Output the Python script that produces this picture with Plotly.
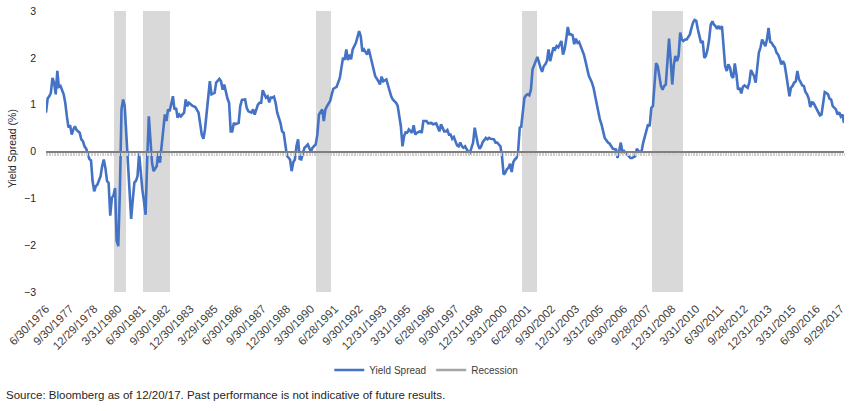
import pandas as pd
import plotly.graph_objects as go

N = None
# Monthly 10y-2y yield spread (%), month-ends starting June 1976
spread = [
    0.83, 1.13, 1.18, 1.25, 1.57, 1.47, 1.22, 1.72, 1.38, 1.40, N, 1.22,
    1.04, 0.75, 0.51, 0.56, 0.36, 0.47, 0.54, 0.46, 0.43, 0.40, 0.26, 0.22,
    0.11, 0.06, -0.04, -0.16, -0.19, -0.63, -0.85, -0.74, -0.71, -0.60, -0.53, -0.31,
    -0.17, -0.35, -0.63, -0.67, -1.37, -0.99, -0.94, -0.78, -1.90, -2.02, -0.88, 0.90,
    1.11, 0.97, 0.40, -0.10, -0.88, -1.44, -1.03, -0.66, -0.63, -0.53, -0.04, -0.46,
    -0.81, -1.06, -1.35, -0.20, 0.75, 0.26, -0.24, -0.42, N, -0.31, 0.01, -0.24,
    0.11, 0.54, 0.79, 0.65, 0.90, 0.86, N, 1.18, 0.90, 0.93, 0.72, 0.79,
    0.75, N, 0.83, 1.11, 0.97, 1.04, N, 0.98, N, 0.95, N, 0.83,
    N, 0.36, 0.27, 0.47, N, 1.08, 1.50, 1.22, N, 1.25, 1.47, N,
    1.55, 1.50, 1.32, 1.43, 1.25, 1.13, 1.04, 0.43, 0.43, 0.61, 0.58, N,
    0.61, 0.97, 1.10, N, 1.11, 0.93, 0.86, N, 0.83, 0.90, 0.79, N,
    1.00, 1.04, 1.04, 1.31, N, 1.15, 1.18, 1.05, 1.15, 1.15, 1.17, 1.04,
    0.83, N, 0.61, 0.43, 0.40, 0.11, -0.09, N, -0.17, -0.42, -0.23, -0.17,
    0.11, 0.26, -0.16, -0.17, -0.03, 0.08, 0.11, 0.15, N, -0.01, 0.08, N,
    0.15, 0.36, 0.79, 0.86, 0.90, 0.65, 0.90, 0.97, 1.04, 1.08, 1.22, 1.34,
    N, 1.38, 1.47, 1.57, 1.79, 2.00, 1.96, 2.18, 1.95, 2.07, 1.97, 2.18,
    N, 2.32, N, 2.57, 2.46, 2.14, 2.18, 2.11, 2.07, 2.19, 2.04, N,
    1.75, 1.61, N, 1.50, 1.43, 1.60, 1.50, N, 1.54, 1.41, N, 1.18,
    1.11, N, 1.04, 0.98, N, 0.54, 0.11, 0.33, 0.41, 0.40, 0.47, N,
    0.40, 0.56, 0.36, 0.40, N, 0.43, 0.40, 0.65, N, 0.65, 0.60, N,
    0.61, 0.58, N, 0.60, 0.51, 0.43, 0.58, 0.51, 0.43, 0.43, 0.46, 0.36,
    0.36, 0.27, 0.31, 0.22, 0.13, 0.11, 0.19, 0.11, 0.08, 0.11, 0.04, -0.01,
    -0.03, 0.08, 0.19, 0.51, 0.29, 0.15, 0.06, 0.11, 0.20, 0.26, 0.29, 0.26,
    0.29, 0.27, 0.27, 0.26, 0.19, 0.19, 0.15, 0.11, -0.10, -0.49, -0.46, -0.38,
    -0.35, -0.26, -0.44, -0.23, -0.17, -0.14, 0.00, 0.51, 0.53, 0.90, 1.15, 1.20,
    1.22, 1.20, 1.32, 1.75, 1.86, 1.93, 2.02, 1.86, 1.79, 1.70, 1.82, 1.86,
    1.93, 2.18, 1.93, 2.07, 2.22, 2.18, 2.25, 2.22, 2.29, 2.36, 2.07, 2.18,
    2.39, 2.66, 2.50, 2.50, 2.48, 2.29, 2.41, 2.32, 2.34, 2.26, 2.18, 2.07,
    1.93, 1.79, 1.62, N, 1.47, 1.36, 1.18, 1.00, 0.79, 0.68, 0.58, 0.43,
    0.29, 0.24, 0.19, 0.17, 0.11, 0.06, N, 0.04, -0.14, 0.01, 0.19, -0.01,
    0.01, -0.03, N, -0.09, -0.14, -0.14, N, -0.10, 0.06, 0.01, -0.01, 0.01,
    0.19, 0.33, 0.51, 0.58, 0.54, 0.93, 0.97, 1.54, 1.89, 1.82, 1.57, 1.40,
    1.32, 1.40, 1.43, 1.97, 2.41, 1.97, 1.43, 1.86, 2.04, 1.93, 2.04, 2.54,
    2.39, 2.36, 2.39, 2.39, 2.46, 2.50, 2.64, 2.76, 2.81, 2.79, 2.61, 2.46,
    2.32, 2.36, 2.00, 2.04, 2.18, 2.39, 2.71, 2.78, 2.71, 2.68, 2.62, 2.68,
    2.61, 2.68, 2.18, 1.82, 1.72, 1.86, 1.79, 1.61, 1.57, 1.88, 1.65, 1.32,
    1.36, 1.24, 1.38, 1.41, N, 1.36, 1.47, 1.74, 1.67, 1.61, 1.47, 1.86,
    2.11, 2.22, 2.39, 2.32, 2.25, 2.39, 2.64, 2.34, 2.32, 2.26, 2.22, 2.11,
    2.07, 1.98, 1.86, 1.93, 1.86, 1.65, 1.43, 1.18, 1.36, 1.40, 1.47, 1.50,
    1.72, 1.54, 1.48, 1.41, 1.40, 1.27, 1.22, 1.13, 0.95, 1.05, 1.04, 0.97,
    0.90, 0.83, 0.77, 0.79, 1.04, 1.27, 1.25, 1.22, 1.13, 1.11, 0.97, 0.93,
    0.90, 0.79, 0.84, 0.75, 0.79, 0.61,
]
series_start = "1976-06-30"

recession_start = ["1980-01-31", "1981-07-31", "1990-07-31", "2001-03-31", "2007-12-31"]
recession_end = ["1980-07-31", "1982-11-30", "1991-03-31", "2001-11-30", "2009-06-30"]

tick_labels = [
    "6/30/1976", "9/30/1977", "12/29/1978", "3/31/1980", "6/30/1981", "9/30/1982",
    "12/30/1983", "3/29/1985", "6/30/1986", "9/30/1987", "12/30/1988", "3/30/1990",
    "6/28/1991", "9/30/1992", "12/31/1993", "3/31/1995", "6/28/1996", "9/30/1997",
    "12/31/1998", "3/31/2000", "6/29/2001", "9/30/2002", "12/31/2003", "3/31/2005",
    "6/30/2006", "9/28/2007", "12/31/2008", "3/31/2010", "6/30/2011", "9/28/2012",
    "12/31/2013", "3/31/2015", "6/30/2016", "9/29/2017",
]
y_ticks = [-3, -2, -1, 0, 1, 2, 3]

dates = pd.date_range(series_start, periods=len(spread), freq=pd.offsets.MonthEnd())
tick_vals = pd.to_datetime(tick_labels, format="%m/%d/%Y")

rec_x = []
for s, e in zip(recession_start, recession_end):
    rec_x.extend(pd.date_range(s, e, freq=pd.offsets.MonthEnd()))
month_ms = 30.44 * 24 * 3600 * 1000

W, H = 850, 411
L, R, T, B = 46, 4, 11, 119
pw = W - L - R
ph = H - T - B

fig = go.Figure()
fig.add_trace(go.Bar(
    x=rec_x, y=[6] * len(rec_x), base=-3, width=month_ms,
    marker=dict(color="#d9d9d9", line=dict(width=0)),
    showlegend=False, hoverinfo="skip",
))
fig.add_trace(go.Scatter(
    x=dates, y=spread, mode="lines", name="Yield Spread",
    line=dict(color="#4472c4", width=2.6), connectgaps=True,
))
fig.add_trace(go.Scatter(
    x=[None], y=[None], mode="lines", name="Recession",
    line=dict(color="#a5a5a5", width=2.5),
))
# zero axis with category tick marks
fig.add_trace(go.Scatter(x=[dates[0]], y=[0], xaxis="x2", mode="markers",
                         marker=dict(opacity=0), showlegend=False, hoverinfo="skip"))

fig.update_layout(
    width=W, height=H,
    margin=dict(l=L, r=R, t=T, b=B),
    plot_bgcolor="white", paper_bgcolor="white",
    font=dict(family="Liberation Sans, Arial, sans-serif", color="#404040"),
    xaxis=dict(
        type="date", range=[dates[0], dates[-1]],
        tickvals=tick_vals, ticktext=tick_labels, tickangle=-45,
        tickfont=dict(size=11.5, color="#404040"), ticklabelstandoff=7,
        showgrid=False, zeroline=False, showline=False, ticks="",
    ),
    xaxis2=dict(
        type="date", range=[dates[0], dates[-1]], overlaying="x",
        anchor="free", position=0.5, side="bottom",
        showline=True, linecolor="#7f7f7f", linewidth=2,
        ticks="outside", dtick="M1", tick0=series_start, ticklen=3, tickwidth=1,
        tickcolor="#d0d0d0", showticklabels=False, showgrid=False, zeroline=False,
    ),
    yaxis=dict(
        range=[-3, 3], tickvals=y_ticks, showgrid=False, zeroline=False,
        showline=False, ticks="", ticklabelstandoff=9,
        tickfont=dict(size=10.5, color="#262626"),
    ),
    bargap=0,
    showlegend=True,
    legend=dict(
        orientation="h", x=(330 - L) / pw, xanchor="left",
        y=(T + ph - 370) / ph, yanchor="middle",
        font=dict(size=10, color="#404040"), bgcolor="rgba(0,0,0,0)",
    ),
    annotations=[
        dict(text="Yield Spread (%)", textangle=-90, xref="paper", yref="paper",
             x=(12 - L) / pw, y=(T + ph - 149) / ph, xanchor="center", yanchor="middle",
             showarrow=False, font=dict(size=10.5, color="#262626")),
        dict(text="Source: Bloomberg as of 12/20/17. Past performance is not indicative of future results.",
             xref="paper", yref="paper", x=(4 - L) / pw, y=(T + ph - 395) / ph,
             xanchor="left", yanchor="middle", showarrow=False,
             font=dict(size=11.5, color="#262626")),
    ],
)

fig.write_html("out.html")
